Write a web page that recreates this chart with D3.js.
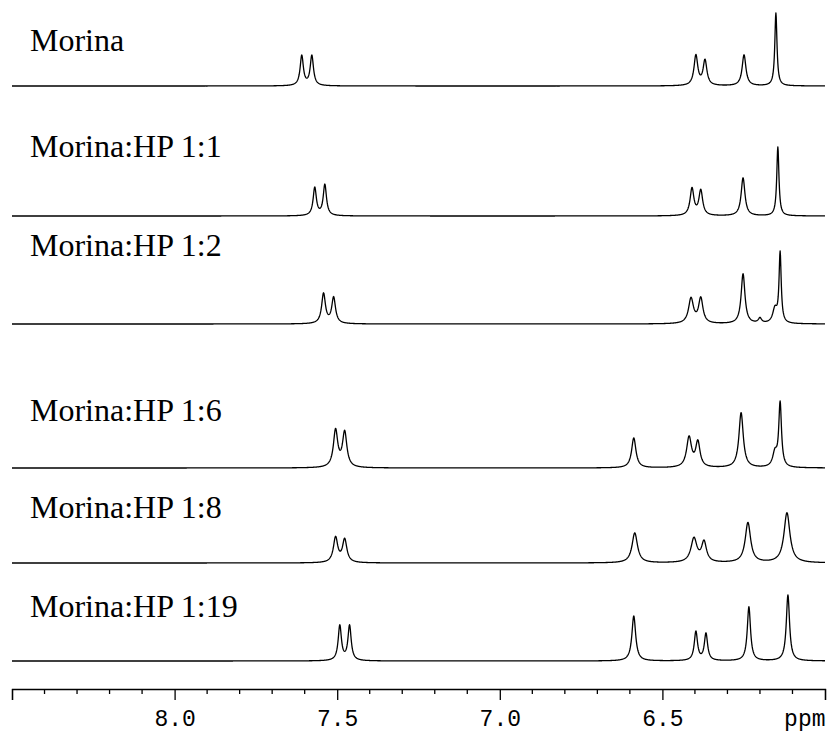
<!DOCTYPE html>
<html><head><meta charset="utf-8">
<script src="https://cdn.jsdelivr.net/npm/d3@7"></script>
<style>html,body{margin:0;padding:0;background:#fff;}svg{display:block;}</style>
</head><body><div id="chart"></div>
<script>
// ---- data ----
const traceLabels = ["Morina", "Morina:HP 1:1", "Morina:HP 1:2", "Morina:HP 1:6", "Morina:HP 1:8", "Morina:HP 1:19"];
// peak lists per trace: [ppm, intensity, half-width (ppm)]
const peaksMorina = [[7.609,30,0.006],[7.578,30,0.006],[6.397,30,0.007],[6.369,25,0.007],[6.249,31,0.007],[6.151,73,0.004]];
const peaksHP11   = [[7.569,28,0.006],[7.538,31,0.006],[6.409,27,0.007],[6.382,25,0.007],[6.252,38,0.007],[6.145,69,0.004]];
const peaksHP12   = [[7.542,30,0.007],[7.511,26,0.007],[6.412,25,0.009],[6.382,25,0.008],[6.252,50,0.007],[6.200,5,0.006],[6.154,14,0.008],[6.138,70,0.004]];
const peaksHP16   = [[7.505,37,0.008],[7.477,35,0.008],[6.588,30,0.008],[6.418,30,0.009],[6.391,25,0.008],[6.258,55,0.008],[6.154,14,0.008],[6.138,64,0.005]];
const peaksHP18   = [[7.505,25,0.008],[7.477,23,0.008],[6.585,30,0.010],[6.403,24,0.011],[6.372,20,0.009],[6.237,40,0.010],[6.117,50,0.011]];
const peaksHP119  = [[7.492,35,0.006],[7.462,35,0.006],[6.588,45,0.007],[6.397,29,0.006],[6.366,27,0.006],[6.234,54,0.006],[6.114,66,0.006]];
const tracePeaks = [peaksMorina, peaksHP11, peaksHP12, peaksHP16, peaksHP18, peaksHP119];
const majorTicks = [8.5, 8.0, 7.5, 7.0, 6.5, 6.0];
const tickLabels = ["", "8.0", "7.5", "7.0", "6.5", "ppm"];
const minorTicks = [8.4,8.3,8.2,8.1,7.9,7.8,7.7,7.6,7.4,7.3,7.2,7.1,6.9,6.8,6.7,6.6,6.4,6.3,6.2,6.1];
const ppmDomain = [8.5, 6.0];

// ---- layout ----
const W = 827, H = 732;
const baselines = [86, 216, 324, 468, 563, 661];
const labelY = [51, 157, 256, 421, 518, 617];
const axisY = 689;

const svg = d3.select("#chart").append("svg").attr("width", W).attr("height", H);
const x = d3.scaleLinear().domain(ppmDomain).range([12, 825]);
const yAmp = d3.scaleLinear().domain([0, 1]).range([0, 1]);

const grid = d3.range(ppmDomain[0], ppmDomain[1] - 0.0005, -0.001);

tracePeaks.forEach((peaks, i) => {
  const pts = grid.map(p => {
    let v = 0;
    peaks.forEach(([c, h, w]) => { v += h / (1 + ((p - c) / w) ** 2); });
    return [p, v];
  });
  const line = d3.line().x(d => x(d[0])).y(d => baselines[i] - yAmp(d[1]));
  svg.append("path").datum(pts).attr("d", line)
    .attr("fill", "none").attr("stroke", "#000").attr("stroke-width", 1.3)
    .attr("stroke-linejoin", "round");
  svg.append("text").attr("x", 30).attr("y", labelY[i])
    .attr("font-family", "Liberation Serif, Times New Roman, serif")
    .attr("font-size", 32).attr("fill", "#000").text(traceLabels[i]);
});

// axis
const axG = svg.append("g").attr("transform", `translate(0,${axisY})`);
const axis = d3.axisBottom(x).tickValues(majorTicks).tickSize(11).tickFormat((d, i) => tickLabels[i]);
axG.call(axis);
axG.select(".domain").attr("stroke", "#000").attr("stroke-width", 1.3);
axG.selectAll(".tick line").attr("stroke", "#000").attr("stroke-width", 1.3);
axG.selectAll(".tick text").attr("font-family", "Liberation Mono, Courier New, monospace")
  .attr("font-size", 23).attr("fill", "#000").attr("dy", "0").attr("y", 37);
axG.selectAll(".tick text").filter((d, i) => i === 5).attr("text-anchor", "end").attr("x", 0);
axG.selectAll(".minor").data(minorTicks).enter().append("line")
  .attr("x1", d => x(d)).attr("x2", d => x(d)).attr("y1", 0).attr("y2", 5)
  .attr("stroke", "#000").attr("stroke-width", 1.3);
</script></body></html>
